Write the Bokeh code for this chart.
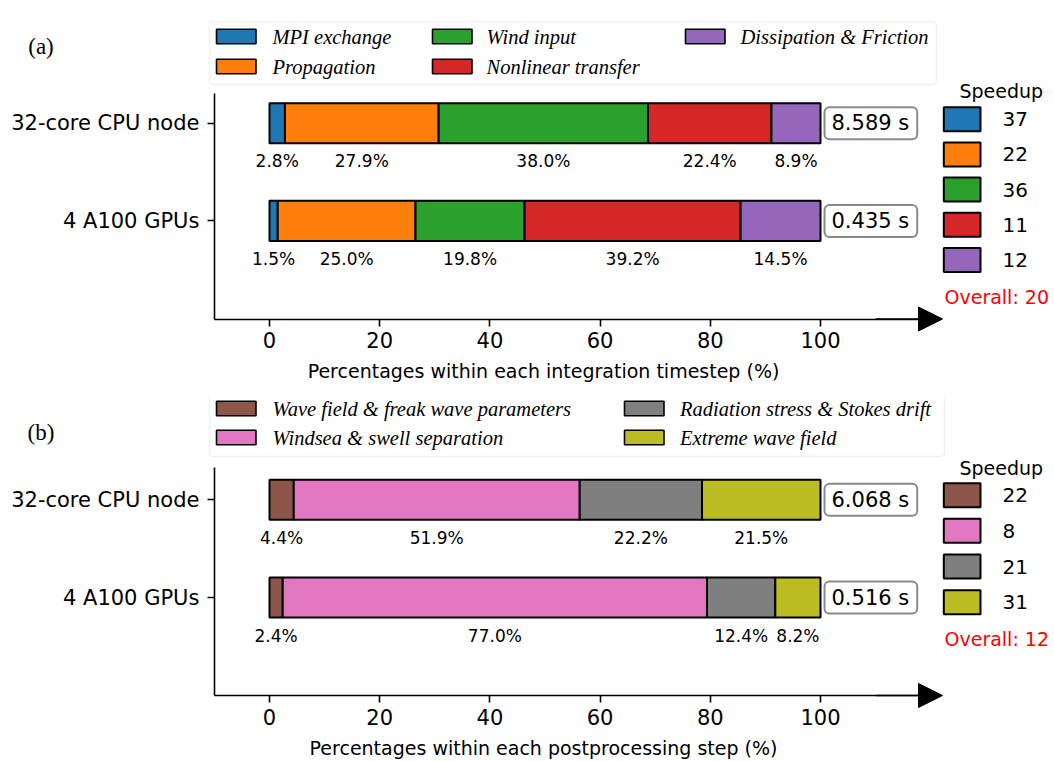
import numpy as np
from bokeh.plotting import figure
from bokeh.layouts import column
from bokeh.models import (LinearAxis, FixedTicker, Range1d, BoxAnnotation,
                          Arrow, NormalHead)
from bokeh.core.properties import value
from bokeh.embed import file_html
from bokeh.resources import INLINE

# ---------------- data ----------------
row_labels = ["32-core CPU node", "4 A100 GPUs"]
x_ticks = [0, 20, 40, 60, 80, 100]

components_a = ["MPI exchange", "Propagation", "Wind input", "Nonlinear transfer",
                "Dissipation & Friction"]
cpu_share_a = [2.8, 27.9, 38.0, 22.4, 8.9]
gpu_share_a = [1.5, 25.0, 19.8, 39.2, 14.5]
speedup_a = [37, 22, 36, 11, 12]
overall_a = 20
runtime_a = ["8.589 s", "0.435 s"]
xlabel_a = "Percentages within each integration timestep (%)"
colors_a = ["#1f77b4", "#ff7f0e", "#2ca02c", "#d62728", "#9467bd"]

components_b = ["Wave field & freak wave parameters", "Windsea & swell separation",
                "Radiation stress & Stokes drift", "Extreme wave field"]
cpu_share_b = [4.4, 51.9, 22.2, 21.5]
gpu_share_b = [2.4, 77.0, 12.4, 8.2]
speedup_b = [22, 8, 21, 31]
overall_b = 12
runtime_b = ["6.068 s", "0.516 s"]
xlabel_b = "Percentages within each postprocessing step (%)"
colors_b = ["#8c564b", "#e377c2", "#7f7f7f", "#bcbd22"]

SANS = "DejaVu Sans"
SERIF = "Liberation Serif"
W = 1054

layout_a = dict(H=396, ref_top=0, ref_axis=318.5, y_gpu=220.4, spine_top=93,
                box=(209, 936, 21, 84), sw_x=[216, 432, 685], tx_x=[272, 486, 740],
                rows=[36, 66], tag_y=46, spd_title=90.5,
                spd_rows=[118.7, 153.9, 189.1, 224.3, 259.5], overall_y=296.7,
                title_y=370.5)
layout_b = dict(H=364, ref_top=396, ref_axis=695, y_gpu=597, spine_top=467.3,
                box=(209, 944, 393, 456), sw_x=[216, 624], tx_x=[272, 679.6],
                rows=[408, 437], tag_y=431.7, spd_title=467,
                spd_rows=[494.7, 530.3, 566, 601.7], overall_y=638,
                title_y=747.5)


def make_panel(tag, comps, cpu, gpu, colors, speedups, overall, runtimes, xlabel, lay):
    H = lay["H"]
    top = lay["ref_top"]
    axis_y = lay["ref_axis"]
    y0 = lay["y_gpu"]

    def X(px):
        return (px - 269.0) / 5.51

    def Y(py):
        return (y0 - py) / 97.7

    p = figure(width=W, height=H, output_backend="svg", toolbar_location=None,
               x_range=Range1d(X(0), X(W)), y_range=Range1d(Y(top + H), Y(top)),
               x_axis_location=None, y_axis_location=None,
               min_border_left=0, min_border_right=0, min_border_top=0,
               min_border_bottom=0)
    p.outline_line_color = None
    p.background_fill_color = "white"
    p.border_fill_color = "white"
    p.grid.visible = False

    xa = LinearAxis(ticker=FixedTicker(ticks=x_ticks), bounds=(-10, 118),
                    fixed_location=Y(axis_y))
    ya = LinearAxis(ticker=FixedTicker(ticks=[0, 1]),
                    bounds=(Y(axis_y), Y(lay["spine_top"])), fixed_location=-10,
                    major_label_overrides={1: row_labels[0], 0: row_labels[1]})
    for ax in (xa, ya):
        ax.axis_line_width = 1.6
        ax.axis_line_color = "black"
        ax.major_tick_line_width = 1.6
        ax.major_tick_line_color = "black"
        ax.major_tick_out = 7
        ax.major_tick_in = 0
        ax.minor_tick_out = 0
        ax.minor_tick_in = 0
        ax.major_label_text_font = SANS
        ax.major_label_text_font_size = "21px"
        ax.major_label_text_color = "black"
    xa.major_label_standoff = 6
    ya.major_label_standoff = 8
    p.add_layout(xa, "below")
    p.add_layout(ya, "left")

    # axis title (axis labels are suppressed for fixed-location axes)
    p.text(x=[X(543)], y=[Y(lay["title_y"])], text=[xlabel], text_align="center",
           text_baseline="middle", text_font=value(SANS), text_font_size="19px",
           text_color="black")

    # stacked bars
    cum_cpu = np.concatenate([[0], np.cumsum(cpu)])
    cum_gpu = np.concatenate([[0], np.cumsum(gpu)])
    for i in range(len(comps)):
        p.hbar(y=[1, 0], left=[cum_cpu[i], cum_gpu[i]], right=[cum_cpu[i + 1], cum_gpu[i + 1]],
               height=0.41, fill_color=colors[i], line_color="black", line_width=2)

    # percentage labels
    mids = list((cum_cpu[:-1] + cum_cpu[1:]) / 2) + list((cum_gpu[:-1] + cum_gpu[1:]) / 2)
    ys = [1 - 0.39] * len(cpu) + [0 - 0.39] * len(gpu)
    txt = [f"{v:.1f}%" for v in cpu] + [f"{v:.1f}%" for v in gpu]
    p.text(x=mids, y=ys, text=txt, text_align="center", text_baseline="middle",
           text_font=value(SANS), text_font_size="17px", text_color="black")

    # runtime boxes
    p.text(x=[X(824)] * 2, y=[1, 0], text=runtimes, text_align="left", text_baseline="middle",
           text_font=value(SANS), text_font_size="21px", text_color="black",
           padding=dict(left=7, right=8, top=4, bottom=4), border_radius=5,
           background_fill_color="white",
           border_line_color="#8a8a8a", border_line_width=2)

    # top legend
    bx0, bx1, by0, by1 = lay["box"]
    p.add_layout(BoxAnnotation(left=X(bx0), right=X(bx1), top=Y(by0), bottom=Y(by1),
                               fill_color="white", fill_alpha=1, line_color="#d4d4d4",
                               line_width=1.5, border_radius=4, level="underlay"))
    for i, name in enumerate(comps):
        col, row = i // 2, i % 2
        ry = lay["rows"][row]
        sx = lay["sw_x"][col]
        p.quad(left=[X(sx)], right=[X(sx + 39.5)], top=[Y(ry - 7.3)], bottom=[Y(ry + 7.3)],
               fill_color=colors[i], line_color="black", line_width=1.6)
        p.text(x=[X(lay["tx_x"][col])], y=[Y(ry)], text=[name], text_align="left",
               text_baseline="middle", text_font=value(SERIF), text_font_style="italic",
               text_font_size="20.5px", text_color="black")

    # speedup legend
    p.text(x=[X(1000.8)], y=[Y(lay["spd_title"])], text=["Speedup"], text_align="center",
           text_baseline="middle", text_font=value(SANS), text_font_size="19px",
           text_color="black")
    for i, s in enumerate(speedups):
        ry = lay["spd_rows"][i]
        p.quad(left=[X(943.3)], right=[X(980)], top=[Y(ry - 12)], bottom=[Y(ry + 12)],
               fill_color=colors[i], line_color="black", line_width=2)
        p.text(x=[X(1002)], y=[Y(ry)], text=[str(s)], text_align="left",
               text_baseline="middle", text_font=value(SANS), text_font_size="20px",
               text_color="black")
    p.text(x=[X(944)], y=[Y(lay["overall_y"])], text=[f"Overall: {overall}"],
           text_align="left", text_baseline="middle", text_font=value(SANS),
           text_font_size="19px", text_color="#ff0000")

    # arrow head at the end of the x axis
    p.add_layout(Arrow(end=NormalHead(size=24, fill_color="black", line_color="black"),
                       x_start=110, y_start=Y(axis_y), x_end=X(942), y_end=Y(axis_y),
                       line_color="black", line_width=1.6))

    # panel tag
    p.text(x=[X(40.5)], y=[Y(lay["tag_y"])], text=[tag], text_align="center",
           text_baseline="middle", text_font=value(SERIF), text_font_size="23px",
           text_color="black")
    return p


pa = make_panel("(a)", components_a, cpu_share_a, gpu_share_a, colors_a, speedup_a,
                overall_a, runtime_a, xlabel_a, layout_a)
pb = make_panel("(b)", components_b, cpu_share_b, gpu_share_b, colors_b, speedup_b,
                overall_b, runtime_b, xlabel_b, layout_b)

page = column(pa, pb, spacing=0)
open("out.html", "w").write(file_html(page, INLINE))
